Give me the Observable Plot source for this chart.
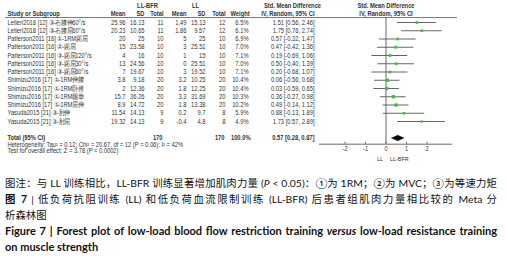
<!DOCTYPE html>
<html>
<head>
<meta charset="utf-8">
<script src="https://cdn.jsdelivr.net/npm/d3@7"></script>
<script src="https://cdn.jsdelivr.net/npm/@observablehq/plot@0.6"></script>
<style>
  body { margin: 0; background: #fff; width: 506px; overflow: hidden; }
  #chart svg { display: block; }
  .cap { margin: 9px 0 0 5px; width: 492px; color: #111; font-family: Lato, "Noto Sans CJK SC", sans-serif; font-size: 10.4px; line-height: 16px; }
  .cap div { white-space: nowrap; }
  .cap .j { text-align: justify; text-align-last: justify; }
  .cap .en { font-family: Lato, "Noto Sans", sans-serif; font-weight: bold; font-size: 11px; }
</style>
</head>
<body>
<div id="chart"></div>
<div class="cap">
  <div class="j">图注：与 LL 训练相比，LL-BFR 训练显著增加肌肉力量 (<i>P</i> &lt; 0.05)：①为 1RM；②为 MVC；③为等速力矩</div>
  <div class="j"><b>图 7</b> | 低负荷抗阻训练 (LL) 和低负荷血流限制训练 (LL-BFR) 后患者组肌肉力量相比较的 Meta 分</div>
  <div>析森林图</div>
  <div class="j en">Figure 7 | Forest plot of low-load blood flow restriction training <i>versus</i> low-load resistance training</div>
  <div class="en">on muscle strength</div>
</div>
<script>
const studies = [
  "Letieri2018 [12] ③-右膝伸60°/s",
  "Letieri2018 [12] ③-右膝屈60°/s",
  "Patterson2011 [16] ①-1RM跖屈",
  "Patterson2011 [16] ②-跖屈",
  "Patterson2011 [16] ③-跖屈120°/s",
  "Patterson2011 [16] ③-跖屈30°/s",
  "Patterson2011 [16] ③-跖屈60°/s",
  "Shimizu2016 [17] ①-1RM伸膝",
  "Shimizu2016 [17] ①-1RM卧推",
  "Shimizu2016 [17] ①-1RM腿举",
  "Shimizu2016 [17] ①-1RM屈伸",
  "Yasuda2015 [21] ③-肘伸",
  "Yasuda2015 [21] ③-肘屈"
];
const bfrMean = [25.96, 20.23, 20, 15, 4, 13, 7, 3.8, 2, 15.7, 8.9, 11.54, 19.32];
const bfrSD   = [16.13, 10.65, 25, 23.58, 16, 24.56, 19.67, 9.18, 12.36, 36.26, 14.72, 14.13, 14.13];
const bfrN    = [11, 11, 10, 10, 10, 10, 10, 20, 20, 20, 20, 9, 9];
const llMean  = [1.49, 1.86, 5, 3, 1, 0, 3, 3.2, 1.8, 3.3, 1.8, 0.2, -0.4];
const llSD    = [15.13, 9.57, 25, 25.51, 15, 25.51, 19.52, 10.25, 12.25, 31.69, 13.38, 9.7, 4.8];
const llN     = [12, 12, 10, 10, 10, 10, 10, 20, 20, 20, 20, 8, 8];
const weight  = [6.5, 6.1, 6.9, 7.0, 7.1, 7.0, 7.1, 10.4, 10.4, 10.3, 10.2, 5.9, 4.9];
const smd     = [1.51, 1.75, 0.57, 0.47, 0.19, 0.50, 0.20, 0.06, 0.03, 0.36, 0.49, 0.88, 1.73];
const ciLo    = [0.56, 0.76, -0.32, -0.42, -0.69, -0.40, -0.68, -0.56, -0.59, -0.27, -0.14, -0.13, 0.57];
const ciHi    = [2.46, 2.74, 1.47, 1.36, 1.06, 1.39, 1.07, 0.68, 0.65, 0.98, 1.12, 1.89, 2.89];

const total = {bfrN: 170, llN: 170, weight: "100.0%", smd: 0.57, lo: 0.28, hi: 0.87};
const heterogeneity = "Heterogeneity: Tau² = 0.12; Chi² = 20.67, df = 12 (P = 0.06); I² = 42%";
const overall = "Test for overall effect: Z = 3.78 (P = 0.0002)";
const axisTicks = [-2, -1, 0, 1, 2];
const axisExtent = [-3.25, 3.25];
const favours = ["LL", "LL-BFR"];

const rows = studies.map((s, i) => ({
  i, s, bm: bfrMean[i], bs: bfrSD[i], bn: bfrN[i], lm: llMean[i], ls: llSD[i], ln: llN[i],
  w: weight[i], e: smd[i], lo: ciLo[i], hi: ciHi[i]
}));

const f2 = v => v.toFixed(2);
const ROW_TOTAL = 14, ROW_HET = 14.8, ROW_TEST = 15.6, ROW_AXIS = 14.75, ROW_TICKLAB = 15.3, ROW_FAV = 16.5;
const ROW_HEAD1 = -2.05, ROW_HEAD2 = -1, ROW_LINE = -0.6;

const font = "Liberation Sans, Arial, sans-serif";
const fs = 6.6;
const ink = "#333";

const C = {bm: 125, bs: 144, bn: 163, lm: 186, ls: 205, ln: 225, w: 248, ci: 314};

const col = (accessor, dx, opts = {}) => Plot.text(rows, {
  y: "i", text: accessor, frameAnchor: "left", dx, textAnchor: "end", fontSize: fs, fill: ink, ...opts
});
const lab = (txt, y, dx, anchor, bold = true, extra = {}) => Plot.text([txt], {
  y: () => y, text: d => d, frameAnchor: "left", dx, textAnchor: anchor, fontSize: fs,
  fontWeight: bold ? "bold" : "normal", fill: ink, ...extra
});

const plot = Plot.plot({
  width: 506,
  height: 166,
  margin: 0,
  style: {fontFamily: font, background: "#fff"},
  x: {type: "linear", domain: [(0 - 385.5) / 20.5, (506 - 385.5) / 20.5], range: [0, 506], axis: null},
  y: {type: "linear", domain: [-2, 17], range: [5.5, 162.25], axis: null},
  r: {type: "sqrt", domain: [0, 10.4], range: [0, 1.9]},
  marks: [
    Plot.ruleY([ROW_LINE], {stroke: "#555", strokeWidth: 0.8, insetLeft: 5, insetRight: 49}),
    Plot.ruleX([0], {y1: ROW_LINE, y2: ROW_AXIS, stroke: "#444", strokeWidth: 0.8}),
    Plot.ruleY([ROW_AXIS], {x1: axisExtent[0], x2: axisExtent[1], stroke: "#444", strokeWidth: 0.8}),
    Plot.ruleX(axisTicks, {x: d => d, y1: () => ROW_AXIS - 0.22, y2: () => ROW_AXIS, stroke: "#444", strokeWidth: 0.8}),
    Plot.text(axisTicks, {x: d => d, y: () => ROW_TICKLAB, text: d => String(d), fontSize: 6.4, fill: ink}),
    Plot.text([favours[0]], {x: () => 0, y: () => ROW_FAV, text: d => d, textAnchor: "end", dx: -3, fontSize: 6.2, fill: ink}),
    Plot.text([favours[1]], {x: () => 0, y: () => ROW_FAV, text: d => d, textAnchor: "start", dx: 4, fontSize: 6.2, fill: ink}),
    Plot.ruleY(rows, {y: "i", x1: "lo", x2: "hi", stroke: "#555", strokeWidth: 0.9}),
    Plot.dot(rows, {x: "e", y: "i", r: "w", symbol: "square", fill: "#3ec23e", stroke: "none"}),
    Plot.line([
      {x: total.lo, y: ROW_TOTAL}, {x: total.smd, y: ROW_TOTAL - 0.33},
      {x: total.hi, y: ROW_TOTAL}, {x: total.smd, y: ROW_TOTAL + 0.33}, {x: total.lo, y: ROW_TOTAL}
    ], {x: "x", y: "y", fill: "#000", stroke: "#000", strokeWidth: 0.5}),
    lab("LL-BFR", ROW_HEAD1, 147, "middle"),
    lab("LL", ROW_HEAD1, 195, "middle"),
    lab("Std. Mean Difference", ROW_HEAD1, 292, "middle"),
    lab("Std. Mean Difference", ROW_HEAD1, 385.5, "middle"),
    lab("Study or Subgroup", ROW_HEAD2, 7, "start"),
    lab("Mean", ROW_HEAD2, C.bm, "end"),
    lab("SD", ROW_HEAD2, C.bs, "end"),
    lab("Total", ROW_HEAD2, C.bn, "end"),
    lab("Mean", ROW_HEAD2, C.lm, "end"),
    lab("SD", ROW_HEAD2, C.ls, "end"),
    lab("Total", ROW_HEAD2, C.ln, "end"),
    lab("Weight", ROW_HEAD2, C.w + 1, "end"),
    lab("IV, Random, 95% CI", ROW_HEAD2, C.ci, "end"),
    lab("IV, Random, 95% CI", ROW_HEAD2, 385.5, "middle"),
    col(d => d.s, 7, {textAnchor: "start"}),
    col(d => String(d.bm), C.bm),
    col(d => String(d.bs), C.bs),
    col(d => String(d.bn), C.bn),
    col(d => String(d.lm), C.lm),
    col(d => String(d.ls), C.ls),
    col(d => String(d.ln), C.ln),
    col(d => d.w.toFixed(1) + "%", C.w),
    col(d => `${f2(d.e)} [${f2(d.lo)}, ${f2(d.hi)}]`, C.ci),
    lab("Total (95% CI)", ROW_TOTAL, 7, "start"),
    lab(String(total.bfrN), ROW_TOTAL, C.bn - 1, "end"),
    lab(String(total.llN), ROW_TOTAL, C.ln - 1, "end"),
    lab(total.weight, ROW_TOTAL, C.w + 2, "end"),
    lab(`${f2(total.smd)} [${f2(total.lo)}, ${f2(total.hi)}]`, ROW_TOTAL, C.ci, "end"),
    lab(heterogeneity, ROW_HET, 7, "start", false),
    lab(overall, ROW_TEST, 7, "start", false)
  ]
});
document.getElementById("chart").appendChild(plot);

// The reference's table type is horizontally condensed: calibrate the squeeze on the
// heterogeneity line (which spans x≈7..183 in the reference) and squeeze each text about its anchor.
const texts = Array.from(plot.querySelectorAll("text"));
const hetEl = texts.find(t => t.textContent === heterogeneity);
const SQUEEZE = hetEl ? Math.max(0.75, Math.min(1.1, 176 / hetEl.getBBox().width)) : 0.9;
texts.forEach(t => {
  const b = t.getBBox();
  const anchor = getComputedStyle(t).textAnchor || "start";
  const ax = anchor === "end" ? b.x + b.width : anchor === "middle" ? b.x + b.width / 2 : b.x;
  const prev = t.getAttribute("transform") || "";
  t.setAttribute("transform", `${prev} translate(${ax},0) scale(${SQUEEZE},1) translate(${-ax},0)`.trim());
});
</script>
</body>
</html>
